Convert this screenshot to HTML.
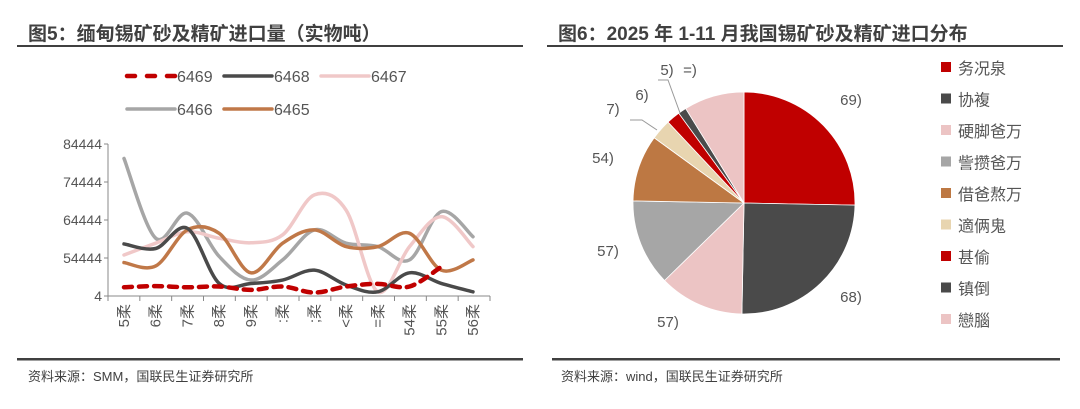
<!DOCTYPE html>
<html><head><meta charset="utf-8"><style>
body{margin:0;width:1080px;height:409px;background:#fff;overflow:hidden;font-family:"Liberation Sans","Noto Sans CJK SC",sans-serif;}
svg{position:absolute;left:0;top:0}
</style></head><body>
<svg width="1080" height="409">
<text x="28" y="40" font-size="19" font-weight="bold" fill="#404040">图5：缅甸锡矿砂及精矿进口量（实物吨）</text>
<rect x="17" y="45" width="506" height="2" fill="#404040"/>
<text x="558" y="40" font-size="19" font-weight="bold" fill="#404040">图6：2025 年 1-11 月我国锡矿砂及精矿进口分布</text>
<rect x="547" y="45" width="516" height="2" fill="#404040"/>
<rect x="17" y="358" width="506" height="2.5" fill="#404040"/>
<rect x="552" y="358" width="508" height="2.5" fill="#404040"/>
<text x="28" y="381" font-size="13" fill="#404040">资料来源：SMM，国联民生证券研究所</text>
<text x="561" y="381" font-size="13" fill="#404040">资料来源：wind，国联民生证券研究所</text>
<g id="line"></g>
<g id="pie"></g>
</svg>
<script>
const cats=["5柔","6柔","7柔","8柔","9柔",":柔",";柔","<柔","=柔","54柔","55柔","56柔"];
const yTicks=["4","54444","64444","74444","84444"];
const seriesNames=["6469","6468","6467","6466","6465"];
const s6469=[0.23,0.26,0.23,0.25,0.16,0.25,0.09,0.25,0.32,0.25,0.77,null];
const s6468=[1.37,1.25,1.78,0.33,0.33,0.42,0.68,0.29,0.11,0.61,0.33,0.11];
const s6467=[1.08,1.39,1.69,1.52,1.40,1.61,2.66,2.26,0.11,1.30,2.09,1.30];
const s6466=[3.62,1.52,2.18,1.04,0.42,0.95,1.74,1.39,1.30,0.95,2.22,1.56];
const s6465=[0.88,0.79,1.74,1.65,0.61,1.39,1.74,1.30,1.30,1.65,0.68,0.95];
const pieLabels=["务况泉","协複","硬脚爸万","訾攒爸万","借爸熬万","適俩鬼","甚偷","镇倒","戀腦"];
const pieValues=[25.3,25.0,12.4,12.6,9.7,3.0,2.0,1.2,8.8];
const pieText=["69)","68)","57)","57)","54)","7)","6)","5)","=)"];

const NS="http://www.w3.org/2000/svg";
function mk(t,a,p){const e=document.createElementNS(NS,t);for(const k in a)e.setAttribute(k,a[k]);p.appendChild(e);return e;}
const L=document.getElementById('line');
const x0=108,x1=490,yb=296,yt=144;
const xS=i=>124+i*(473-124)/(cats.length-1);
const yS=v=>yb-v*(yb-yt)/(yTicks.length-1);
let ax=mk('line',{x1:x0,y1:yb,x2:x0,y2:yt,stroke:'#888','stroke-width':1},L);


let bx=mk('line',{x1:x0,y1:yb,x2:x1,y2:yb,stroke:'#888','stroke-width':1},L);


yTicks.forEach((t,i)=>{const y=yS(i);
 mk('line',{x1:x0-4,y1:y,x2:x0,y2:y,stroke:'#888'},L);
 const tx=mk('text',{x:x0-6,y:y+5,'font-size':14,fill:'#555','text-anchor':'end'},L);tx.textContent=t;
 
 });
for(let i=0;i<=cats.length;i++){const x=x0+i*(x1-x0)/cats.length;mk('line',{x1:x,y1:yb,x2:x,y2:yb+5,stroke:'#888'},L);}
cats.forEach((c,i)=>{const x=xS(i);
 const tx=mk('text',{x:0,y:0,'font-size':15,fill:'#555','text-anchor':'end',transform:`translate(${x+5},${yb+8}) rotate(-90)`},L);tx.textContent=c;
 
 });
function pathOf(arr){const p=[];arr.forEach((v,i)=>{if(v!=null)p.push([xS(i),yS(v)]);});
 let d=`M${p[0][0]},${p[0][1]}`;
 for(let i=0;i<p.length-1;i++){const a=p[i-1]||p[i],b=p[i],c=p[i+1],e=p[i+2]||c;
  d+=` C${b[0]+(c[0]-a[0])/6},${b[1]+(c[1]-a[1])/6} ${c[0]-(e[0]-b[0])/6},${c[1]-(e[1]-b[1])/6} ${c[0]},${c[1]}`;}
 return d;}
const styles=[["#c00000","8,7"],["#4a4a4a",""],["#f0c8c8",""],["#a6a6a6",""],["#c07848",""]];
const data=[s6469,s6468,s6467,s6466,s6465];
[3,2,4,1,0].forEach(k=>{const a={d:pathOf(data[k]),fill:'none',stroke:styles[k][0],'stroke-width':k==0?4.5:3.5,'stroke-linecap':'round'};
 if(styles[k][1])a['stroke-dasharray']=styles[k][1];
 const pe=mk('path',a,L);
 
 });
const lp=[[127,76],[224,76],[321,76],[127,109],[224,109]];
seriesNames.forEach((n,k)=>{const [x,y]=lp[k];
 const a={x1:x,y1:y,x2:x+48,y2:y,stroke:styles[k][0],'stroke-width':k==0?4.5:3.5,'stroke-linecap':'round'};
 if(k==0)a['stroke-dasharray']='8,12';
 mk('line',a,L);
 const tx=mk('text',{x:x+50,y:y+6,'font-size':16,fill:'#555'},L);tx.textContent=n;
 
 });
const P=document.getElementById('pie');
const cx=744,cy=203,r=111;
const pcol=["#c00000","#4a4a4a","#ecc4c4","#a6a6a6","#bd7843","#e8d5b0","#c00000","#4a4a4a","#ecc4c4"];
const lblPos=[[851,105],[851,302],[668,327],[608,256],[603,163],[613,114],[642,100],[667,75],[690,75]];
const tot=pieValues.reduce((a,b)=>a+b,0);let ang=0;
pieValues.forEach((v,i)=>{const a0=ang,a1=ang+v/tot*2*Math.PI;ang=a1;
 const p0=[cx+r*Math.sin(a0),cy-r*Math.cos(a0)],p1=[cx+r*Math.sin(a1),cy-r*Math.cos(a1)];
 const pe=mk('path',{d:`M${cx},${cy} L${p0[0]},${p0[1]} A${r},${r} 0 ${a1-a0>Math.PI?1:0} 1 ${p1[0]},${p1[1]} Z`,fill:pcol[i],stroke:'#fff','stroke-width':0.8},P);
 
 
 const tx=mk('text',{x:lblPos[i][0],y:lblPos[i][1],'font-size':15,fill:'#555','text-anchor':'middle'},P);tx.textContent=pieText[i];
 
 
 const tl=mk('text',{x:958,y:74+i*31.5,'font-size':16,fill:'#555'},P);tl.textContent=pieLabels[i];
 
 
 mk('rect',{x:941,y:62+i*31.5,width:10,height:10,fill:pcol[i]},P);});
mk('polyline',{points:'630,120 642,120 657,130',fill:'none',stroke:'#999'},P);
mk('polyline',{points:'658,80 668,80 680,113',fill:'none',stroke:'#999'},P);
</script>
</body></html>
